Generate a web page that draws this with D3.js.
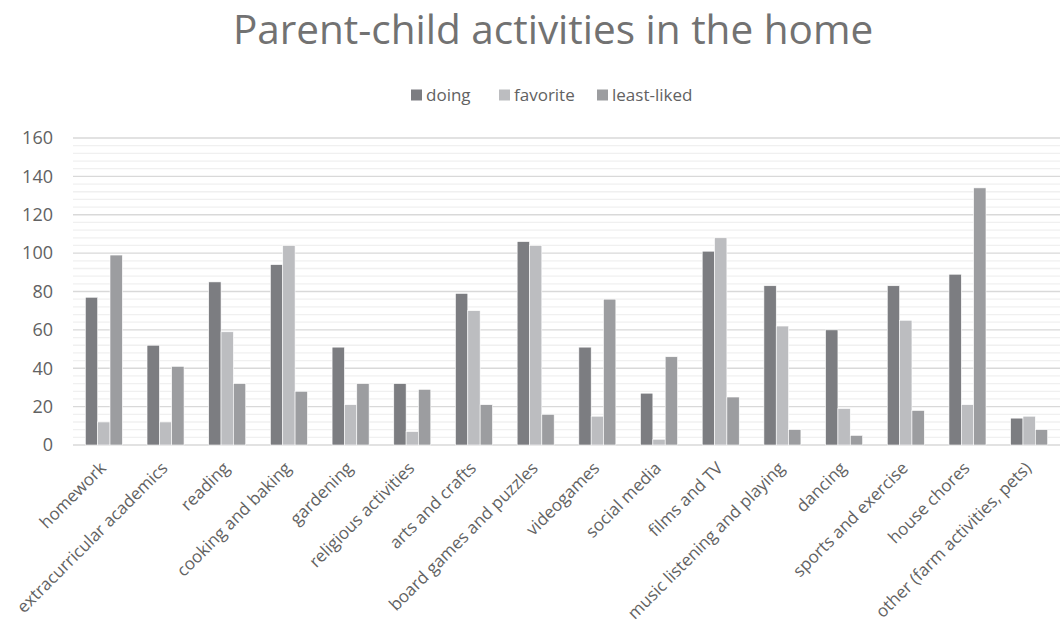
<!DOCTYPE html>
<html>
<head>
<meta charset="utf-8">
<script src="https://cdn.jsdelivr.net/npm/d3@7"></script>
<style>
  body { margin: 0; background: #fff; }
  text { font-family: "Open Sans", Lato, sans-serif; fill: #626262; }
</style>
</head>
<body>
<div id="chart"></div>
<script>
// data
var categories = ["homework", "extracurricular academics", "reading", "cooking and baking",
    "gardening", "religious activities", "arts and crafts", "board games and puzzles",
    "videogames", "social media", "films and TV", "music listening and playing",
    "dancing", "sports and exercise", "house chores", "other (farm activities, pets)"];
var series_names = ["doing", "favorite", "least-liked"];
var doing       = [77, 52, 85, 94, 51, 32, 79, 106, 51, 27, 101, 83, 60, 83, 89, 14];
var favorite    = [12, 12, 59, 104, 21, 7, 70, 104, 15, 3, 108, 62, 19, 65, 21, 15];
var least_liked = [99, 41, 32, 28, 32, 29, 21, 16, 76, 46, 25, 8, 5, 18, 134, 8];
var y_ticks = [0, 20, 40, 60, 80, 100, 120, 140, 160];

var colors = ["#7c7d81", "#bcbdc0", "#9c9da0"];
var width = 1062, height = 633;
var plot = { left: 73, right: 1060, top: 138, bottom: 445 };

var svg = d3.select("#chart").append("svg")
    .attr("width", width)
    .attr("height", height);

var x = d3.scaleBand()
    .domain(categories)
    .range([plot.left, plot.right])
    .paddingInner(0.4)
    .paddingOuter(0.2);
var x_inner = d3.scaleBand()
    .domain(series_names)
    .range([0, x.bandwidth()]);
var y = d3.scaleLinear()
    .domain([0, 160])
    .range([plot.bottom, plot.top]);

// minor grid every 4, major every 20
var minor = d3.range(4, 160, 4).filter(function (v) { return v % 20 != 0; });
svg.append("g").selectAll("line")
    .data(minor).enter().append("line")
    .attr("x1", plot.left).attr("x2", plot.right)
    .attr("y1", function (d) { return y(d); })
    .attr("y2", function (d) { return y(d); })
    .attr("stroke", "#f0f0f0")
    .attr("stroke-width", 1.3);
svg.append("g").selectAll("line")
    .data(y_ticks).enter().append("line")
    .attr("x1", plot.left).attr("x2", plot.right)
    .attr("y1", function (d) { return y(d); })
    .attr("y2", function (d) { return y(d); })
    .attr("stroke", "#d9d9d9")
    .attr("stroke-width", 1.3);

// y axis labels
var y_axis = svg.append("g")
    .attr("transform", "translate(" + (plot.left - 20) + ",0)")
    .call(d3.axisLeft(y).tickValues(y_ticks).tickSize(0).tickPadding(0));
y_axis.select(".domain").remove();
y_axis.selectAll("text")
    .style("font-family", "'Open Sans', sans-serif")
    .style("font-size", "18px")
    .style("fill", "#626262");

// bars
var table = categories.map(function (c, i) {
    return { cat: c, values: [doing[i], favorite[i], least_liked[i]] };
});
var groups = svg.append("g").selectAll("g")
    .data(table).enter().append("g")
    .attr("transform", function (d) { return "translate(" + x(d.cat) + ",0)"; });
groups.selectAll("rect")
    .data(function (d) {
        return d.values.map(function (v, j) { return { name: series_names[j], value: v, j: j }; });
    })
    .enter().append("rect")
    .attr("x", function (d) { return x_inner(d.name); })
    .attr("width", x_inner.bandwidth())
    .attr("y", function (d) { return y(d.value); })
    .attr("height", function (d) { return y(0) - y(d.value); })
    .attr("fill", function (d) { return colors[d.j]; })
    .attr("stroke", "#ffffff")
    .attr("stroke-width", 0.6);

// x labels rotated
svg.append("g").selectAll("text")
    .data(categories).enter().append("text")
    .attr("transform", function (d) {
        return "translate(" + (x(d) + x.bandwidth() / 2 - 1) + "," + (plot.bottom + 20) + ") rotate(-45)";
    })
    .attr("text-anchor", "end")
    .attr("dy", "0.35em")
    .style("font-size", "17px")
    .text(function (d) { return d; });

// title
svg.append("text")
    .attr("x", 553)
    .attr("y", 44)
    .attr("text-anchor", "middle")
    .style("font-size", "40.5px")
    .style("fill", "#727272")
    .text("Parent-child activities in the home");

// legend
var legend_x = [411, 499, 597];
var legend = svg.append("g").selectAll("g")
    .data(series_names).enter().append("g")
    .attr("transform", function (d, i) { return "translate(" + legend_x[i] + ",95)"; });
legend.append("rect")
    .attr("x", 0).attr("y", -5.5)
    .attr("width", 11).attr("height", 11)
    .attr("fill", function (d, i) { return colors[i]; });
legend.append("text")
    .attr("x", 15)
    .attr("dy", "0.35em")
    .style("font-size", "17px")
    .text(function (d) { return d; });
</script>
</body>
</html>
